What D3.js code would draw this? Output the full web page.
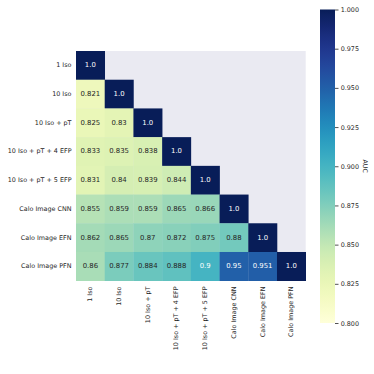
<!DOCTYPE html>
<html><head><meta charset="utf-8">
<script src="https://cdn.jsdelivr.net/npm/d3@7"></script>
<style>body{margin:0;background:#fff}svg{display:block;font-family:"DejaVu Sans",sans-serif}</style>
</head><body><svg id="c" width="374" height="374"></svg>
<script>
const labels = ["1 Iso","10 Iso","10 Iso + pT","10 Iso + pT + 4 EFP","10 Iso + pT + 5 EFP","Calo Image CNN","Calo Image EFN","Calo Image PFN"];
const row0 = [1.0];
const row1 = [0.821, 1.0];
const row2 = [0.825, 0.83, 1.0];
const row3 = [0.833, 0.835, 0.838, 1.0];
const row4 = [0.831, 0.84, 0.839, 0.844, 1.0];
const row5 = [0.855, 0.859, 0.859, 0.865, 0.866, 1.0];
const row6 = [0.862, 0.865, 0.87, 0.872, 0.875, 0.88, 1.0];
const row7 = [0.86, 0.877, 0.884, 0.888, 0.9, 0.95, 0.951, 1.0];
const rows = [row0,row1,row2,row3,row4,row5,row6,row7];
const cbTicks = [0.800,0.825,0.850,0.875,0.900,0.925,0.950,0.975,1.000];
const cbLabel = "AUC";

const svg = d3.select("#c");
const x = d3.scaleBand().domain(labels).range([76, 305.7]);
const y = d3.scaleBand().domain(labels).range([51, 280.7]);
const color = d3.scaleSequential(d3.interpolateYlGnBu).domain([0.8, 1.0]);

svg.append("rect").attr("x",76).attr("y",51).attr("width",229.7).attr("height",229.7).attr("fill","#eaeaf2");

const cells = [];
rows.forEach((r,i)=>r.forEach((v,j)=>cells.push({i,j,v})));
svg.selectAll("rect.cell").data(cells).join("rect").attr("class","cell")
  .attr("x",d=>x(labels[d.j])).attr("y",d=>y(labels[d.i]))
  .attr("width",x.bandwidth()+0.3).attr("height",y.bandwidth()+0.3)
  .attr("fill",d=>color(d.v));

function fmt(v){ return Number.isInteger(v) ? v.toFixed(1) : String(v); }
function lum(c){ const r=d3.rgb(c); const f=u=>{u/=255;return u<=0.03928?u/12.92:Math.pow((u+0.055)/1.055,2.4);}; return 0.2126*f(r.r)+0.7152*f(r.g)+0.0722*f(r.b); }
svg.selectAll("text.ann").data(cells).join("text").attr("class","ann")
  .attr("x",d=>x(labels[d.j])+x.bandwidth()/2).attr("y",d=>y(labels[d.i])+y.bandwidth()/2)
  .attr("text-anchor","middle").attr("dominant-baseline","central")
  .attr("font-size",6.9)
  .attr("fill",d=>lum(color(d.v))<0.408?"#ffffff":"#262626")
  .text(d=>fmt(d.v));

// y labels
svg.selectAll("text.yl").data(labels).join("text").attr("class","yl")
  .attr("x",71.5).attr("y",d=>y(d)+y.bandwidth()/2)
  .attr("text-anchor","end").attr("dominant-baseline","central")
  .attr("font-size",6.4).attr("fill","#262626").text(d=>d);
// x labels
svg.selectAll("text.xl").data(labels).join("text").attr("class","xl")
  .attr("transform",d=>`translate(${x(d)+x.bandwidth()/2},286.5) rotate(-90)`)
  .attr("text-anchor","end").attr("dominant-baseline","central")
  .attr("font-size",6.4).attr("fill","#262626").text(d=>d);

// colorbar
const cbx=320, cbw=15;
const cy = d3.scaleLinear().domain([0.8,1.0]).range([323,9.5]);
const defs = svg.append("defs");
const grad = defs.append("linearGradient").attr("id","g").attr("x1",0).attr("y1",1).attr("x2",0).attr("y2",0);
d3.range(0,1.0001,0.02).forEach(t=>grad.append("stop").attr("offset",t).attr("stop-color",color(0.8+0.2*t)));
svg.append("rect").attr("x",cbx).attr("y",cy(1)).attr("width",cbw).attr("height",cy(0.8)-cy(1)).attr("fill","url(#g)");
const ax = svg.append("g").attr("transform",`translate(${cbx+cbw},0)`)
  .call(d3.axisRight(cy).tickValues(cbTicks).tickFormat(d3.format(".3f")).tickSize(3.5).tickPadding(2.2));
ax.select(".domain").remove();
ax.selectAll("line").attr("stroke","#262626").attr("stroke-width",0.8);
ax.selectAll("text").attr("font-size",6.4).attr("fill","#262626").attr("font-family","DejaVu Sans");
svg.append("text").attr("transform",`translate(365,${(cy(1)+cy(0.8))/2}) rotate(90)`)
  .attr("text-anchor","middle").attr("dominant-baseline","central")
  .attr("font-size",6.4).attr("fill","#262626").text(cbLabel);
</script></body></html>
